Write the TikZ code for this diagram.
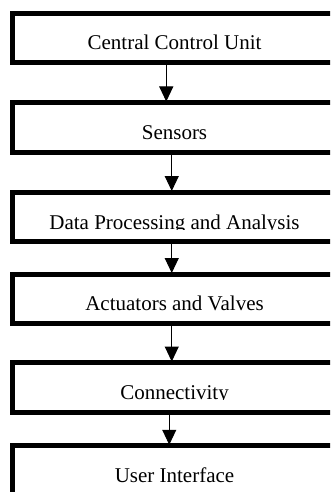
\documentclass[tikz,border=0pt]{standalone}
\usepackage{fontspec}
\setmainfont{Liberation Serif}
\usetikzlibrary{arrows.meta}
\tikzset{
  box/.style={draw=black, line width=5pt, fill=none, rectangle,
    minimum width=324.5pt, minimum height=49.5pt, inner sep=0pt},
  label/.style={anchor=base, inner sep=0pt, font=\fontsize{21}{25}\selectfont},
  arr/.style={draw=black, line width=1pt,
    -{Triangle[width=14pt,length=15pt]}, shorten >=-1.5pt}
}
\begin{document}
\begin{tikzpicture}[x=1pt,y=1pt]
\useasboundingbox (0,0) rectangle (330,-492);
\clip (0,0) rectangle (330,-492);
% boxes
\node[box] (b1) at (174.75,-38.25) {};
\node[box] (b2) at (174.75,-127.25) {};
\node[box] (b3) at (174.75,-216.75) {};
\node[box] (b4) at (174.75,-298.75) {};
\node[box] (b5) at (174.75,-387.25) {};
\node[box] (b6) at (174.75,-470.5) {};
% labels (cut just below the baseline, as in the reference)
\begin{scope}
  \clip (15,-16) rectangle (330,-50.7)
        (15,-105) rectangle (330,-139.7)
        (15,-194.5) rectangle (330,-229.2)
        (15,-276.5) rectangle (330,-311.2)
        (15,-365) rectangle (330,-399.7)
        (15,-448.3) rectangle (330,-483);
  \node[label] (t1) at (174.5,-50) {Central Control Unit};
  \node[label] (t2) at (174.5,-139.5) {Sensors};
  \node[label] (t3) at (174.5,-229) {Data Processing and Analysis};
  \node[label] (t4) at (174.5,-310.5) {Actuators and Valves};
  \node[label] (t5) at (174.5,-399) {Connectivity};
  \node[label] (t6) at (174.5,-482.3) {User Interface};
\end{scope}
% connectors
\draw[arr] ([xshift=-8.5pt]b1.south) -- ([xshift=-8.5pt]b2.north);
\draw[arr] ([xshift=-3pt]b2.south) -- ([xshift=-3pt]b3.north);
\draw[arr] ([xshift=-3pt]b3.south) -- ([xshift=-3pt]b4.north);
\draw[arr] ([xshift=-3pt]b4.south) -- ([xshift=-3pt]b5.north);
\draw[arr] ([xshift=-5.5pt]b5.south) -- ([xshift=-5.5pt]b6.north);
\end{tikzpicture}
\end{document}
